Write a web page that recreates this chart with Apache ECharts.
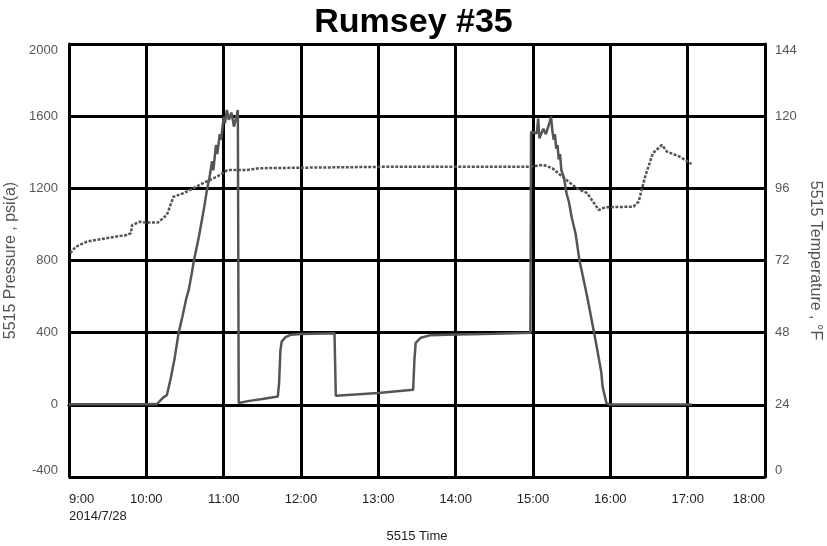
<!DOCTYPE html>
<html>
<head>
<meta charset="utf-8">
<script src="https://cdn.jsdelivr.net/npm/echarts@6/dist/echarts.min.js"></script>
<style>html,body{margin:0;padding:0;background:#fff;}#c{width:827px;height:546px;}</style>
</head>
<body>
<div id="c"></div>
<script>
// ---- data ----
var titleText = 'Rumsey #35';
var xTickLabels = ['9:00', '10:00', '11:00', '12:00', '13:00', '14:00', '15:00', '16:00', '17:00', '18:00'];
var dateLabel = '2014/7/28';
var pressureTicks = [-400, 0, 400, 800, 1200, 1600, 2000];
var temperatureTicks = [0, 24, 48, 72, 96, 120, 144];

var pressureTimes = ['09:00','10:00','10:05','10:08','10:09','10:13','10:16','10:19','10:22','10:25','10:28','10:31','10:33','10:35','10:37','10:39','10:41','10:43','10:45','10:47','10:49','10:51','10:52','10:54','10:55','10:57','10:58','11:00','11:01','11:02:30','11:04','11:06','11:08','11:10','11:11','11:11:30','11:11:40','11:20','11:30','11:42','11:43','11:44','11:45','11:48','11:52','12:00','12:26','12:27','13:00','13:27','13:28','13:29','13:33','13:40','13:53','14:30','14:58','14:58:30','15:03','15:04','15:05','15:08','15:10','15:13','15:14','15:15','15:16','15:17','15:18','15:19','15:20','15:21','15:22','15:24','15:26','15:28','15:30','15:33','15:36','15:42','15:47','15:50','15:53','15:54','15:57','16:00','17:03'];
var pressureValues = [3,3,5,3,8,40,55,150,260,397,490,590,640,720,803,870,940,1020,1100,1191,1260,1350,1300,1440,1390,1500,1470,1597,1560,1634,1580,1620,1542,1600,1634,1630,10,22,32,46,120,300,350,375,388,392,397,50,66,83,250,343,372,385,388,394,400,1514,1505,1588,1477,1530,1500,1569,1597,1520,1470,1500,1420,1440,1360,1390,1300,1260,1173,1120,1040,950,803,600,415,300,180,100,9,2,2];

var temperatureTimes = ['09:01','09:05','09:14','09:30','09:45','09:48','09:49','09:55','10:00','10:09','10:16','10:21','10:29','10:44','10:55','11:03','11:18','11:28','12:30','13:17','14:19','14:58','15:08','15:15','15:21','15:34','15:42','15:51','15:56','16:18','16:22','16:27','16:33','16:40','16:44','16:54','17:03'];
var temperatureValues = [74.4,76.5,78.3,79.5,80.5,81.1,83.8,84.9,84.6,84.6,87.2,93.2,94.4,97.7,99.9,102.1,102.1,102.7,103.0,103.2,103.2,103.2,103.8,102.7,100.5,96.0,94.4,88.8,89.7,89.9,91.6,99.9,107.7,110.4,108.2,106.5,104.1];

function toHours(s) {
  var p = s.split(':').map(Number);
  return p[0] + p[1] / 60 + (p[2] || 0) / 3600;
}
function pairs(times, vals) {
  return times.map(function (t, i) { return [toHours(t), vals[i]]; });
}

var font = "'Liberation Sans', Arial, sans-serif";
var chart = echarts.init(document.getElementById('c'));
chart.setOption({
  animation: false,
  backgroundColor: '#fff',
  title: {
    text: titleText, left: 'center', top: 1,
    textStyle: { fontFamily: font, fontSize: 34, fontWeight: 'bold', color: '#000' }
  },
  grid: { left: 69, right: 62, top: 44, bottom: 69, outerBoundsMode: 'none', containLabel: false },
  xAxis: {
    type: 'value', min: 9, max: 18, interval: 1,
    name: '5515 Time', nameLocation: 'middle', nameGap: 50,
    nameTextStyle: { fontFamily: font, fontSize: 13, color: '#222' },
    axisLine: { show: true, lineStyle: { color: '#000', width: 3 } },
    axisTick: { show: false },
    splitLine: { show: true, lineStyle: { color: '#000', width: 3 } },
    axisLabel: {
      fontFamily: font, fontSize: 13, color: '#222', margin: 14, lineHeight: 17,
      alignMinLabel: 'left', alignMaxLabel: 'right',
      formatter: function (v) {
        var i = Math.round(v - 9);
        return i === 0 ? xTickLabels[0] + '\n' + dateLabel : xTickLabels[i];
      }
    }
  },
  yAxis: [{
    type: 'value', min: pressureTicks[0], max: pressureTicks[pressureTicks.length - 1], interval: 400,
    name: '5515 Pressure , psi(a)', nameLocation: 'middle', nameGap: 45, nameRotate: 90,
    nameTextStyle: { fontFamily: font, fontSize: 16, color: '#555' },
    axisLine: { show: true, lineStyle: { color: '#000', width: 3 } },
    axisTick: { show: false },
    splitLine: { show: true, lineStyle: { color: '#000', width: 3 } },
    axisLabel: {
      fontFamily: font, fontSize: 13, color: '#555', margin: 11,
      verticalAlignMinLabel: 'bottom', verticalAlignMaxLabel: 'top',
      formatter: function (v) { return String(v); }
    }
  }, {
    type: 'value', position: 'right', min: temperatureTicks[0], max: temperatureTicks[temperatureTicks.length - 1], interval: 24,
    name: '5515 Temperature , °F', nameLocation: 'middle', nameGap: 33, nameRotate: -90,
    nameTextStyle: { fontFamily: font, fontSize: 16, color: '#555' },
    axisLine: { show: true, lineStyle: { color: '#000', width: 3 } },
    axisTick: { show: false },
    splitLine: { show: false },
    axisLabel: {
      fontFamily: font, fontSize: 13, color: '#555', margin: 10,
      verticalAlignMinLabel: 'bottom', verticalAlignMaxLabel: 'top',
      formatter: function (v) { return String(v); }
    }
  }],
  series: [{
    name: 'Pressure', type: 'line', yAxisIndex: 0, symbol: 'none',
    data: pairs(pressureTimes, pressureValues),
    lineStyle: { color: '#555', width: 2.5 }, z: 3
  }, {
    name: 'Temperature', type: 'line', yAxisIndex: 1, symbol: 'none',
    data: pairs(temperatureTimes, temperatureValues),
    lineStyle: { color: '#555', width: 2.5, type: [3, 1.5] }, z: 4
  }]
});
</script>
</body>
</html>
